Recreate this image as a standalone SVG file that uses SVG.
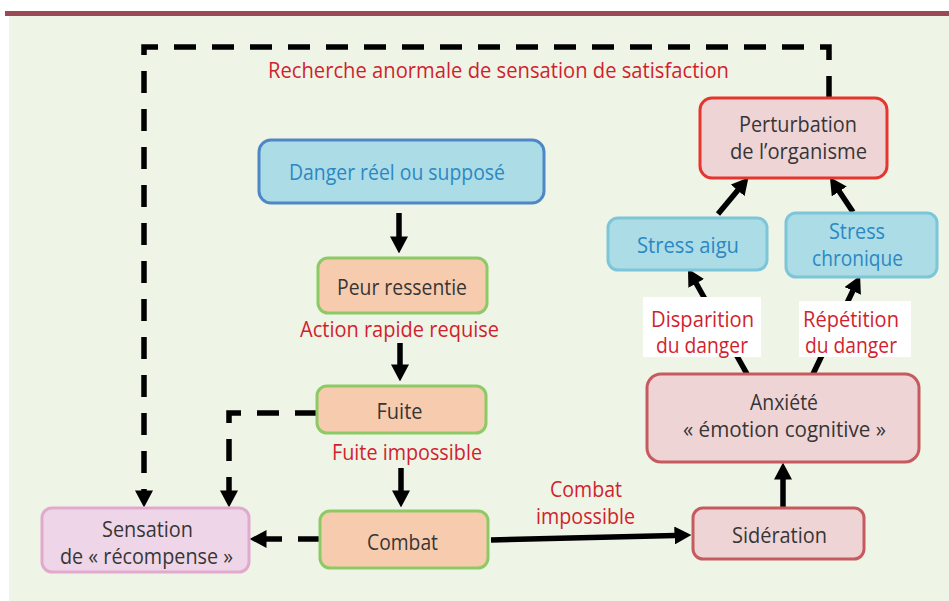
<svg xmlns="http://www.w3.org/2000/svg" width="949" height="601" viewBox="0 0 949 601">
<style>
text{font-family:"Open Sans","Noto Sans","Liberation Sans",sans-serif;font-size:21px;text-anchor:middle}
.dk{fill:#363636}.rd{fill:#D21F2E}.bl{fill:#2B88C4}
.box{stroke-width:3}
.blue1{fill:#ACDCE6;stroke:#4F87C6}
.blue2{fill:#ACDCE6;stroke:#7DC6DA}
.peach{fill:#F7CCAE;stroke:#8DC964}
.pinkR{fill:#EFD4D6;stroke:#E6352F}
.pinkD{fill:#EFD4D6;stroke:#C65B5F}
.mauve{fill:#EED6E8;stroke:#E2A9CF}
.lab{fill:#FFFFFF}
.ln{fill:none;stroke:#000;stroke-width:5.5;marker-end:url(#ah)}
.dash{fill:none;stroke:#000;stroke-width:5.5;stroke-dasharray:22 16;marker-end:url(#ah)}
</style>
<defs>
<marker id="ah" markerUnits="userSpaceOnUse" markerWidth="17" markerHeight="18" viewBox="0 0 16 17" refX="0.5" refY="8.5" orient="auto">
<path d="M0,0 L16,8.5 L0,17 Z" fill="#000"/>
</marker>
</defs>
<rect x="0" y="0" width="949" height="601" fill="#FFFFFF"/>
<rect x="9" y="16" width="940" height="585" fill="#EEF4E6"/>
<rect x="5" y="11" width="944" height="5" fill="#9A4A55"/>

<g id="connectors">
<path class="dash" d="M829,98 V47 H144 V491"/>
<path class="dash" d="M317,413 H229 V491"/>
<path class="dash" d="M320,539 H266"/>
<path class="ln" d="M399,213 V237"/>
<path class="ln" d="M400,343 V365"/>
<path class="ln" d="M401,468 V491"/>
<path class="ln" d="M491,540 L675,535.5"/>
<path class="ln" d="M783,508 V479"/>
<path class="ln" d="M747,374 L696,283"/>
<path class="ln" d="M813,374 L853,290.5"/>
<path class="ln" d="M718,214 L738,190"/>
<path class="ln" d="M853,212 L839,191"/>
</g>

<g id="label-recherche"><text class="rd" x="498.5" y="78" textLength="461" lengthAdjust="spacingAndGlyphs">Recherche anormale de sensation de satisfaction</text></g>

<g id="danger">
<rect class="box blue1" x="259" y="140" width="285" height="63" rx="12"/>
<text class="bl" x="397" y="180" textLength="216" lengthAdjust="spacingAndGlyphs">Danger réel ou supposé</text>
</g>
<g id="peur">
<rect class="box peach" x="318" y="258" width="169" height="55" rx="10"/>
<text class="dk" x="402" y="295" textLength="130" lengthAdjust="spacingAndGlyphs">Peur ressentie</text>
</g>
<g id="label-action"><text class="rd" x="399.5" y="337" textLength="199" lengthAdjust="spacingAndGlyphs">Action rapide requise</text></g>
<g id="fuite">
<rect class="box peach" x="317" y="386" width="169" height="47" rx="10"/>
<text class="dk" x="399.5" y="419" textLength="46" lengthAdjust="spacingAndGlyphs">Fuite</text>
</g>
<g id="label-fuite-impossible"><text class="rd" x="407" y="460" textLength="150" lengthAdjust="spacingAndGlyphs">Fuite impossible</text></g>
<g id="combat">
<rect class="box peach" x="320" y="511" width="168" height="57" rx="10"/>
<text class="dk" x="402.5" y="550" textLength="71" lengthAdjust="spacingAndGlyphs">Combat</text>
</g>
<g id="sensation">
<rect class="box mauve" x="42" y="508" width="207" height="64" rx="10"/>
<text class="dk" x="147.5" y="537" textLength="91" lengthAdjust="spacingAndGlyphs">Sensation</text>
<text class="dk" x="146.5" y="564" textLength="173" lengthAdjust="spacingAndGlyphs">de « récompense »</text>
</g>
<g id="label-combat-impossible">
<text class="rd" x="586" y="497" textLength="72" lengthAdjust="spacingAndGlyphs">Combat</text>
<text class="rd" x="585.5" y="524" textLength="99" lengthAdjust="spacingAndGlyphs">impossible</text>
</g>
<g id="sideration">
<rect class="box pinkD" x="693" y="508" width="171" height="51" rx="10"/>
<text class="dk" x="779.5" y="543" textLength="95" lengthAdjust="spacingAndGlyphs">Sidération</text>
</g>
<g id="anxiete">
<rect class="box pinkD" x="647" y="374" width="272" height="88" rx="14"/>
<text class="dk" x="784" y="410" textLength="68" lengthAdjust="spacingAndGlyphs">Anxiété</text>
<text class="dk" x="784.5" y="437" textLength="203" lengthAdjust="spacingAndGlyphs">« émotion cognitive »</text>
</g>
<g id="label-disparition">
<rect class="lab" x="643" y="297" width="118" height="60"/>
<text class="rd" x="702.5" y="327" textLength="103" lengthAdjust="spacingAndGlyphs">Disparition</text>
<text class="rd" x="702" y="353" textLength="92" lengthAdjust="spacingAndGlyphs">du danger</text>
</g>
<g id="label-repetition">
<rect class="lab" x="799" y="301" width="112" height="56"/>
<text class="rd" x="851" y="327" textLength="96" lengthAdjust="spacingAndGlyphs">Répétition</text>
<text class="rd" x="851" y="353" textLength="92" lengthAdjust="spacingAndGlyphs">du danger</text>
</g>
<g id="stress-aigu">
<rect class="box blue2" x="608" y="218" width="159" height="52" rx="10"/>
<text class="bl" x="688" y="253" textLength="102" lengthAdjust="spacingAndGlyphs">Stress aigu</text>
</g>
<g id="stress-chronique">
<rect class="box blue2" x="786" y="213" width="151" height="64" rx="10"/>
<text class="bl" x="857" y="239" textLength="56" lengthAdjust="spacingAndGlyphs">Stress</text>
<text class="bl" x="857.5" y="266" textLength="91" lengthAdjust="spacingAndGlyphs">chronique</text>
</g>
<g id="perturbation">
<rect class="box pinkR" x="700" y="98" width="187" height="80" rx="12"/>
<text class="dk" x="798" y="132" textLength="118" lengthAdjust="spacingAndGlyphs">Perturbation</text>
<text class="dk" x="798.5" y="159" textLength="137" lengthAdjust="spacingAndGlyphs">de l’organisme</text>
</g>
</svg>
